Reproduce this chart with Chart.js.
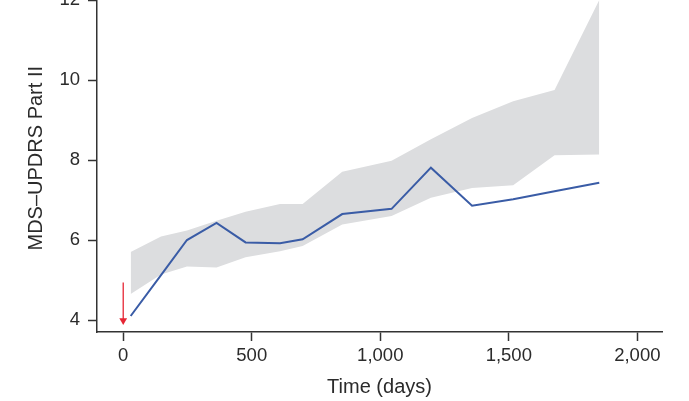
<!DOCTYPE html>
<html>
<head>
<meta charset="utf-8">
<script src="https://cdn.jsdelivr.net/npm/chart.js@4.4.1/dist/chart.umd.min.js"></script>
<style>
  html, body { margin: 0; padding: 0; background: #fff; }
  #wrap { position: relative; width: 689px; height: 401px; overflow: hidden; }
  #chart { position: absolute; left: 0; top: -20px; }
</style>
</head>
<body>
<div id="wrap"><canvas id="chart" width="689" height="421"></canvas></div>
<script>
// visit days and MDS-UPDRS Part II scores
const days = [29, 147, 248, 363, 476, 610, 698, 852, 1044, 1197, 1357, 1517, 1678, 1852];
const meanScore = [4.10, 5.12, 6.00, 6.43, 5.94, 5.92, 6.02, 6.65, 6.78, 7.81, 6.86, 7.02, 7.22, 7.43];
const upperBand = [5.70, 6.09, 6.24, 6.48, 6.71, 6.90, 6.90, 7.71, 7.98, 8.52, 9.05, 9.47, 9.75, 12.0];
const lowerBand = [4.65, 5.14, 5.34, 5.31, 5.57, 5.72, 5.85, 6.39, 6.60, 7.06, 7.30, 7.37, 8.12, 8.14];

// red arrow marking day 0
const arrowDay = 0;
const arrowTop = 4.94;
const arrowTip = 3.99;

const xTickValues = [0, 500, 1000, 1500, 2000];
const xTickLabels = ['0', '500', '1,000', '1,500', '2,000'];
const yTickValues = [4, 6, 8, 10, 12];
const yTickLabels = ['4', '6', '8', '10', '12'];

const FONT = '"Liberation Sans", Arial, Helvetica, sans-serif';
const TEXT = '#2b2b2b';
const AXIS = '#333333';

function pts(ys) {
    return days.map((d, i) => ({ x: d, y: ys[i] }));
}

const ctx = document.getElementById('chart').getContext('2d');

new Chart(ctx, {
    type: 'line',
    data: {
        datasets: [
            {
                label: 'upper',
                data: pts(upperBand),
                borderWidth: 0,
                pointRadius: 0,
                backgroundColor: '#dcdddf',
                fill: '+1'
            },
            {
                label: 'lower',
                data: pts(lowerBand),
                borderWidth: 0,
                pointRadius: 0,
                fill: false
            },
            {
                label: 'mean',
                data: pts(meanScore),
                borderColor: '#3a5ca6',
                borderWidth: 2,
                pointRadius: 0,
                tension: 0,
                fill: false
            },
            {
                label: 'start',
                data: [{ x: arrowDay, y: arrowTop }, { x: arrowDay, y: arrowTip }],
                borderColor: '#e62634',
                borderWidth: 1.3,
                pointRadius: [0, 4.5],
                pointStyle: 'triangle',
                rotation: 180,
                pointBackgroundColor: '#e62634',
                pointBorderColor: '#e62634',
                pointBorderWidth: 0,
                fill: false
            }
        ]
    },
    options: {
        responsive: false,
        animation: false,
        devicePixelRatio: 1,
        layout: {
            padding: { top: 2, right: 27, bottom: 0, left: 0 }
        },
        plugins: {
            legend: { display: false },
            tooltip: { enabled: false },
            filler: { drawTime: 'beforeDatasetsDraw' }
        },
        scales: {
            x: {
                type: 'linear',
                min: -102,
                max: 2096,
                afterBuildTicks: function (scale) {
                    scale.ticks = xTickValues.map(v => ({ value: v }));
                },
                afterFit: function (scale) {
                    scale.height = 69;
                    scale.paddingLeft = 0;
                    scale.paddingRight = 0;
                },
                ticks: {
                    callback: function (value, index) {
                        return xTickLabels[index];
                    },
                    autoSkip: false,
                    maxRotation: 0,
                    color: TEXT,
                    font: { family: FONT, size: 18.5 },
                    padding: 4
                },
                grid: {
                    drawOnChartArea: false,
                    drawTicks: true,
                    tickLength: 9,
                    tickColor: AXIS,
                    tickWidth: 1.5
                },
                border: { display: true, color: AXIS, width: 1.5 },
                title: {
                    display: true,
                    text: 'Time (days)',
                    color: TEXT,
                    font: { family: FONT, size: 20 },
                    padding: { top: 0, bottom: 2 }
                }
            },
            y: {
                min: 3.7,
                max: 12.39,
                afterBuildTicks: function (scale) {
                    scale.ticks = yTickValues.map(v => ({ value: v }));
                },
                afterFit: function (scale) {
                    scale.width = 97;
                    scale.paddingTop = 0;
                    scale.paddingBottom = 0;
                },
                ticks: {
                    callback: function (value, index) {
                        return yTickLabels[index];
                    },
                    autoSkip: false,
                    color: TEXT,
                    font: { family: FONT, size: 18.5 },
                    padding: 8
                },
                grid: {
                    drawOnChartArea: false,
                    drawTicks: true,
                    tickLength: 9,
                    tickColor: AXIS,
                    tickWidth: 1.5
                },
                border: { display: true, color: AXIS, width: 1.5 },
                title: {
                    display: true,
                    text: 'MDS\u2013UPDRS Part II',
                    color: TEXT,
                    font: { family: FONT, size: 20 },
                    padding: { top: 24, bottom: 0 }
                }
            }
        }
    }
});
</script>
</body>
</html>
